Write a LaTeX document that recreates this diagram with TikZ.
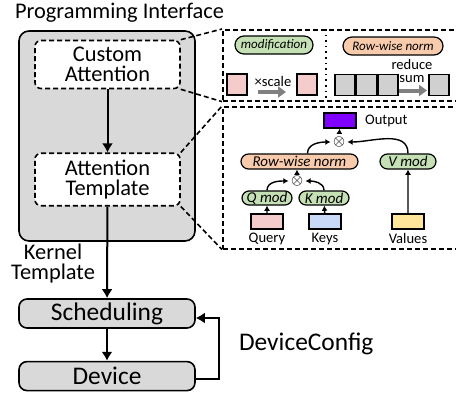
\documentclass[tikz,border=0pt]{standalone}
\usepackage{fontspec}
\setmainfont{Carlito}
\usetikzlibrary{positioning, shapes.geometric, shapes.misc, arrows, arrows.meta}

\definecolor{ifacegray}{HTML}{D9D9D9}
\definecolor{modgreen}{HTML}{C5E0B4}
\definecolor{normorange}{HTML}{F8CBAD}
\definecolor{qpink}{HTML}{F4CCCC}
\definecolor{kblue}{HTML}{C9DAF8}
\definecolor{vyellow}{HTML}{FFE699}
\definecolor{outpurple}{HTML}{7F00FF}
\definecolor{cellgray}{HTML}{D0D0D0}

\begin{document}
\begin{tikzpicture}[x=0.5pt, y=-0.5pt, node distance=1pt and 3.5pt]
            \tikzstyle{group} = [rectangle, draw, line width=0.8pt, fill=ifacegray,
                rounded corners=5pt, minimum width=88pt, minimum height=105pt]
            \tikzstyle{zoombox} = [rectangle, draw, dashed, dash pattern=on 2.5pt off 1.5pt,
                line width=0.8pt, fill=white, rounded corners=3pt, minimum width=72.5pt,
                minimum height=23.5pt, align=center, font=\fontsize{11.2}{10}\selectfont]
            \tikzstyle{stage} = [rectangle, draw, line width=0.8pt, fill=ifacegray,
                rounded corners=4pt, minimum width=88pt, minimum height=14.5pt,
                inner sep=0pt, font=\fontsize{12.7}{14}\selectfont]
            \tikzstyle{panel} = [rectangle, draw, dashed, dash pattern=on 2.5pt off 1.5pt,
                line width=0.8pt, anchor=north west, minimum width=124pt, inner sep=0pt]
            \tikzstyle{pill} = [rounded rectangle, draw, line width=0.6pt, inner sep=0pt,
                font=\fontsize{6.5}{7}\selectfont\itshape]
            \tikzstyle{cell} = [rectangle, draw, line width=0.7pt, inner sep=0pt,
                minimum width=10pt, minimum height=10.5pt]
            \tikzstyle{tensor} = [rectangle, draw, line width=0.7pt, inner sep=0pt,
                minimum width=16pt, minimum height=7.5pt]
            \tikzstyle{small} = [inner sep=0.5pt, font=\fontsize{7.3}{6.5}\selectfont, align=center]
            \tikzstyle{prod} = [inner sep=0pt, fill=white, circle, font=\fontsize{7.5}{7.5}\selectfont]
            \tikzstyle{line} = [draw, line width=1pt, -{Latex[length=4.5pt, width=5.5pt]}]
            \tikzstyle{thin} = [draw, line width=0.7pt, -{Latex[length=2.6pt, width=3pt]}]
            \tikzstyle{zoomline} = [draw, dashed, dash pattern=on 2.5pt off 1.5pt, line width=0.8pt]
            \tikzstyle{fat} = [draw=gray, line width=2pt, -{Triangle[length=4pt, width=5.5pt]}]

            \useasboundingbox (0,0) rectangle (456,402);
            \clip (0,0) rectangle (456,402);

            % left column
            \node [group] (iface) at (107,136) {};
            \node [anchor=base, font=\fontsize{11.2}{12}\selectfont] (title) at (119.5,18) {Programming Interface};
            \node [zoombox] (custom) at (107.5,64.5) {Custom\\Attention};
            \node [zoombox] (templ) at (107.5,179.5) {Attention\\Template};
            \node [stage] (sched) at (107,313.5) {Scheduling};
            \node [stage, below=16pt of sched] (device) {Device};
            \node [align=center, font=\fontsize{11.2}{10}\selectfont] (kernel) at (53,264) {Kernel\\Template};
            \node [anchor=west, font=\fontsize{12.7}{14}\selectfont] (devcfg) at (232,344) {DeviceConfig};

            \path [line] (custom) -- (templ);
            \path [line] (templ) -- (sched);
            \path [line] (sched) -- (device);
            \path [line] ([yshift=-1.5pt]device.east) -- ++(11.5pt,0) |- ([yshift=-2.25pt]sched.east);

            % zoomed panels
            \node [panel, minimum height=35.5pt] (toppanel) at (222,29) {};
            \node [panel, minimum height=71pt] (botpanel) at (222,106) {};
            \draw [dotted, line width=0.8pt] (326,29) -- (326,100);
            \path [zoomline] (custom.north east) -- (toppanel.north west);
            \path [zoomline] (custom.south east) -- (toppanel.south west);
            \path [zoomline] (templ.north east) -- (botpanel.north west);
            \path [zoomline] (templ.south east) -- (botpanel.south west);

            % modification
            \node [pill, fill=modgreen, minimum width=39pt, minimum height=9pt] (modpill) at (274,45) {modification};
            \node [cell, fill=qpink] (sin) at (237,84.5) {};
            \node [cell, fill=qpink] (sout) at (307,84.5) {};
            \node [small] (scale) at (273,81) {×scale};
            \path [fat] (258,92) -- (286,92);

            % row-wise norm
            \node [pill, fill=normorange, minimum width=50pt, minimum height=9pt] (normpill) at (393,46) {Row-wise norm};
            \node [cell, fill=cellgray] (c1) at (345,85) {};
            \node [cell, fill=cellgray, right=0pt of c1] (c2) {};
            \node [cell, fill=cellgray, right=0pt of c2] (c3) {};
            \node [cell, fill=cellgray] (cout) at (439,85) {};
            \node [small] (reduce) at (412,71) {reduce\\sum};
            \path [fat] (399,90.5) -- (427,90.5);

            % attention template
            \node [tensor, fill=outpurple] (out) at (340,120.5) {};
            \node [small, right=of out] (outlbl) {Output};
            \node [prod] (otop) at (339,142) {$\otimes$};
            \node [pill, fill=normorange, minimum width=58.5pt, minimum height=7.5pt,
                font=\fontsize{7.5}{8}\selectfont\itshape] (norm) at (299.5,161.5) {Row-wise norm};
            \node [pill, fill=modgreen, minimum width=28pt, minimum height=7.5pt,
                font=\fontsize{7.5}{8}\selectfont\itshape] (vmod) at (408,161.5) {V mod};
            \node [prod] (olow) at (297,181) {$\otimes$};
            \node [pill, fill=modgreen, minimum width=25pt, minimum height=7pt,
                font=\fontsize{7.5}{8}\selectfont\itshape] (qmod) at (267,198) {Q mod};
            \node [pill, fill=modgreen, minimum width=25pt, minimum height=7pt,
                font=\fontsize{7.5}{8}\selectfont\itshape] (kmod) at (324,198) {K mod};
            \node [tensor, fill=qpink] (query) at (267,221.5) {};
            \node [tensor, fill=kblue] (keys) at (325,221.5) {};
            \node [tensor, fill=vyellow] (values) at (408,221.5) {};
            \node [small, below=of query] (qlbl) {Query};
            \node [small, below=of keys] (klbl) {Keys};
            \node [small, below=of values] (vlbl) {Values};

            \path [thin] (query) -- (qmod);
            \path [thin] (keys) -- (kmod);
            \path [thin] (values) -- (vmod);
            \path [thin] (qmod.north) to [out=90, in=180] (olow.west);
            \path [thin] (kmod.north) to [out=90, in=0] (olow.east);
            \path [thin] (olow) -- (norm.south -| olow);
            \path [thin] ([xshift=4pt]norm.north) to [out=90, in=180] (otop.west);
            \path [thin] (vmod.north) to [out=90, in=0] (otop.east);
            \path [thin] (otop) -- (out);
        \end{tikzpicture}
\end{document}
